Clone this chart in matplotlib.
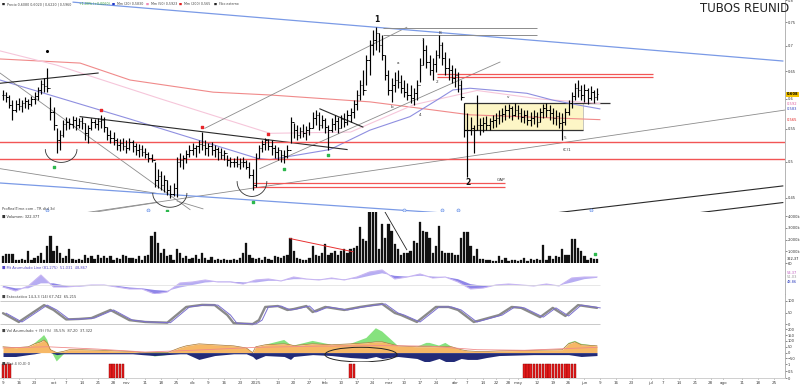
import numpy as np
import pandas as pd
import matplotlib
matplotlib.use("Agg")
import matplotlib.pyplot as plt
from matplotlib.patches import Rectangle, Ellipse
from matplotlib.ticker import NullLocator

# ---------------- daily bars, 9 sep 2024 -> 6 jun 2025 ----------------
highs = [
    .616, .612, .607, .598, .598, .602, .598, .603, .600, .605,
    .612, .621, .634, .638, .657, .603, .586, .551, .548, .565,
    .570, .568, .571, .570, .568, .570, .560, .556, .568, .566,
    .568, .573, .570, .553, .548, .545, .536, .534, .536, .533,
    .536, .533, .528, .527, .525, .521, .515, .512, .499, .489,
    .486, .481, .474, .467, .470, .507, .513, .510, .518, .525,
    .528, .525, .533, .545, .533, .528, .530, .525, .522, .521,
    .518, .510, .507, .506, .509, .506, .507, .503, .499, .489,
    .513, .525, .533, .536, .534, .533, .525, .522, .518, .518,
    .525, .570, .560, .556, .553, .558, .555, .561, .578, .581,
    .578, .573, .568, .556, .568, .573, .570, .573, .576, .581,
    .584, .598, .616, .634, .653, .682, .712, .733, .739, .726,
    .722, .682, .653, .638, .649, .653, .643, .634, .629, .625,
    .620, .634, .676, .716, .702, .682, .676, .692, .722, .708,
    .688, .676, .662, .657, .649, .634, .593, .576, .570, .556,
    .607, .568, .570, .571, .568, .573, .576, .581, .584, .590,
    .591, .588, .593, .590, .584, .581, .581, .578, .581, .578,
    .584, .591, .593, .590, .584, .581, .578, .576, .584, .598,
    .612, .629, .634, .625, .627, .620, .623, .616, .620,
]
lows = [
    .598, .595, .585, .565, .578, .581, .578, .585, .583, .588,
    .591, .598, .609, .612, .612, .565, .548, .513, .518, .537,
    .548, .550, .551, .548, .551, .550, .533, .528, .548, .551,
    .548, .551, .545, .533, .528, .525, .518, .516, .518, .513,
    .518, .515, .510, .507, .509, .506, .500, .499, .464, .463,
    .461, .458, .454, .450, .452, .451, .492, .489, .498, .507,
    .510, .507, .513, .518, .510, .509, .510, .507, .503, .504,
    .502, .494, .493, .492, .492, .490, .493, .489, .477, .461,
    .464, .506, .515, .518, .518, .510, .506, .503, .500, .498,
    .506, .528, .536, .533, .536, .537, .533, .541, .551, .556,
    .548, .551, .544, .518, .545, .548, .544, .551, .553, .556,
    .561, .568, .581, .598, .607, .625, .643, .682, .692, .688,
    .672, .634, .607, .595, .612, .620, .611, .603, .598, .593,
    .590, .598, .630, .662, .657, .643, .634, .649, .676, .662,
    .643, .634, .629, .622, .612, .598, .538, .478, .541, .513,
    .548, .541, .545, .548, .548, .551, .553, .558, .561, .565,
    .568, .565, .571, .566, .561, .560, .556, .555, .558, .553,
    .561, .568, .570, .565, .558, .556, .551, .533, .556, .573,
    .585, .598, .603, .598, .595, .591, .598, .593, .598,
]
closes = [
    .607, .604, .590, .581, .591, .588, .593, .596, .591, .600,
    .605, .616, .627, .623, .620, .578, .556, .533, .541, .558,
    .561, .558, .565, .556, .563, .560, .544, .551, .561, .558,
    .563, .565, .553, .541, .536, .533, .525, .528, .524, .521,
    .530, .523, .518, .519, .515, .512, .506, .503, .474, .480,
    .467, .474, .461, .455, .463, .500, .503, .506, .512, .518,
    .521, .523, .527, .525, .521, .524, .518, .519, .515, .510,
    .513, .502, .500, .499, .496, .500, .499, .493, .481, .467,
    .506, .521, .527, .533, .524, .521, .515, .518, .510, .509,
    .518, .561, .548, .541, .547, .544, .548, .551, .568, .573,
    .556, .565, .553, .548, .558, .563, .551, .566, .561, .573,
    .578, .591, .607, .625, .616, .672, .702, .712, .726, .702,
    .682, .643, .616, .625, .634, .630, .620, .612, .607, .602,
    .611, .625, .662, .692, .668, .653, .664, .682, .702, .676,
    .657, .653, .638, .643, .625, .603, .548, .548, .551, .548,
    .556, .556, .560, .556, .563, .565, .568, .573, .574, .581,
    .584, .573, .581, .576, .570, .573, .565, .568, .571, .561,
    .578, .584, .581, .576, .568, .571, .560, .561, .578, .593,
    .605, .620, .616, .607, .616, .602, .612, .603, .608,
]
# volume, thousands of shares
volumes = [
    580, 783, 783, 783, 290, 232, 348, 232, 1015, 290,
    435, 580, 870, 290, 1450, 2320, 1015, 1450, 870, 435,
    580, 1160, 348, 290, 348, 232, 725, 435, 580, 348,
    725, 435, 580, 435, 638, 290, 435, 348, 725, 580,
    435, 435, 348, 580, 290, 580, 725, 2320, 2668, 1740,
    870, 1160, 580, 725, 290, 1160, 870, 435, 580, 348,
    435, 725, 348, 870, 435, 290, 522, 290, 348, 232,
    348, 290, 232, 348, 290, 435, 870, 1740, 725, 435,
    348, 435, 290, 522, 348, 290, 580, 522, 435, 580,
    725, 2175, 1015, 435, 348, 290, 290, 435, 1450, 725,
    580, 870, 1595, 725, 870, 1015, 725, 1015, 1160, 870,
    1160, 1305, 1450, 3045, 2030, 1885, 4600, 4600, 4600, 1160,
    3335, 2175, 3335, 2755, 1595, 1160, 725, 870, 812, 1015,
    1885, 1740, 3480, 2755, 2610, 2175, 870, 1450, 3190, 1015,
    812, 812, 812, 725, 725, 2175, 2610, 2668, 1450, 580,
    1160, 348, 348, 290, 290, 145, 145, 638, 290, 435,
    145, 232, 290, 145, 232, 435, 145, 348, 290, 348,
    232, 1508, 290, 580, 348, 638, 522, 1160, 725, 725,
    2030, 2030, 1305, 1015, 580, 290, 435, 348, 322,
]
holidays = ["2024-12-25", "2024-12-26", "2025-01-01", "2025-04-18", "2025-04-21", "2025-05-01"]
first_day, last_day = "2024-09-09", "2025-08-29"
month_names = ["2025", "feb", "mar", "abr", "may", "jun", "jul", "ago", "sep", "oct", "nov", "dic"]

# moving averages (bar index, price)
ma20_idx = [-0.95, 40.2, 80.4, 84.5, 103.5, 116.1, 128.8, 137.3, 142.4, 147.8, 158.2, 165.8, 174, 181.6, 188.9]
ma20_val = [0.634, 0.566, 0.505, 0.503, 0.518, 0.548, 0.570, 0.598, 0.616, 0.619, 0.614, 0.610, 0.598, 0.590, 0.583]
ma50_idx = [-0.95, 17, 50, 84.5, 110, 130, 150, 170, 188.9]
ma50_val = [0.690, 0.662, 0.600, 0.543, 0.545, 0.590, 0.615, 0.600, 0.592]
ma200_idx = [-0.95, 24.4, 40.2, 66.5, 84.5, 116.1, 132, 147.8, 188.9]
ma200_val = [0.674, 0.666, 0.634, 0.612, 0.607, 0.595, 0.584, 0.573, 0.565]

# drawn trend lines ((bar, price), (bar, price))
gray_lines = [((63.9, 0.551), (127.8, 0.739)), ((81.3, 0.490), (157.3, 0.668)),
              ((25.9, 0.431), (247.5, 0.581)), ((-0.95, 0.647), (59.2, 0.435)),
              ((-0.95, 0.490), (48.7, 0.456)), ((24.4, 0.429), (48.7, 0.444)),
              ((55.1, 0.446), (63.3, 0.436))]
black_lines = [((-0.95, 0.628), (30.1, 0.647)), ((24.4, 0.570), (108.9, 0.518)),
               ((100.3, 0.583), (113.9, 0.553)), ((170.9, 0.429), (246.8, 0.466)),
               ((215.8, 0.429), (246.8, 0.444))]
blue_lines = [((22.2, 0.795), (246.8, 0.670)), ((-0.95, 0.470), (138.3, 0.431))]
red_levels = [0.530, 0.504]
red_short = [0.645, 0.640]
red_short_span = (137.3, 205.7)
gap_levels = [0.470, 0.465]
gap_span = (79.1, 158.9)
top_levels = [0.737, 0.722]
top_span = (120.3, 169.0)
box_span = (145.9, 183.5)
box_prices = (0.548, 0.593)
box_line_end = 192.1
cups = [(18.4, 5.0, 0.518, 0.499), (52.8, 5.4, 0.456, 0.438), (78.8, 4.7, 0.472, 0.452)]
red_marks = [(31, 0.581), (63, 0.553), (84, 0.542)]
green_marks = [(16, 0.492), (79, 0.445), (89, 0.490), (103, 0.510), (52, 0.433)]
blue_marks = [(14, 0.434), (46, 0.434), (127, 0.434), (139, 0.434), (144, 0.434), (186, 0.434)]
wave_labels = [("1", 118.4, 0.757), ("2", 147.2, 0.471)]
small_labels = [("GAP", 157.5, 0.474), ("(C)1", 178.5, 0.517), ("a", 125, 0.666), ("b", 123.1, 0.586),
                ("1", 132.9, 0.712), ("B", 138.3, 0.726), ("4", 132, 0.573), ("2", 137.3, 0.630),
                ("v", 159.8, 0.603), ("5", 177.8, 0.535)]
price_tags = [("0.608", 0.608, "#f5c400", "black"), ("0.592", 0.592, None, "#e060a0"),
              ("0.583", 0.583, None, "#3040c0"), ("0.565", 0.565, None, "#e02020")]

# volume panel drawings
vol_red_line = ((90.8, 2087), (110.8, 957))
vol_black_line = ((120.9, 4350), (127.8, 1130))

# accumulation line panel, sampled every 4 bars
p2_line = [45.8, 43.4, 46.4, 53, 45.8, 45.8, 46.4, 47, 47, 45.8, 44.6, 44.6, 41.6, 42.8, 48.2, 48.8,
           50, 48.8, 48.8, 47.6, 50, 50.6, 49.4, 51.8, 50.6, 50, 51.2, 50, 51.8, 54.8, 56, 50.6,
           51.8, 53.6, 51.2, 51.8, 48.8, 44.6, 45.2, 47, 47.6, 47, 46.4, 47.6, 46.4, 51.2, 51.8, 51.8]
p2_signal = [46.5, 45, 45, 48, 48, 46.5, 46, 46.5, 47, 46.5, 45.5, 45, 44, 43.5, 45.5, 47,
             48.5, 49, 49, 48.5, 48.5, 49.5, 49.5, 50.5, 50.5, 50.3, 50.5, 50.3, 50.8, 52.5, 54, 52.5,
             52, 52.5, 52, 51.8, 50.5, 47.5, 46.5, 46.5, 47, 47, 46.8, 47, 46.8, 48.5, 50.5, 51.3]

# stochastic turning points
stoch_idx = [0, 5, 13, 16, 20, 24, 28, 34, 37, 40, 45, 52, 58, 63, 67, 71, 73, 79, 81, 83,
             87, 90, 92, 96, 98, 102, 108, 113, 117, 120, 124, 126, 131, 135, 137, 141, 144, 149, 157, 161,
             164, 170, 174, 178, 182, 186, 188]
stoch_val = [47, 9, 82, 61, 20, 22, 26, 61, 39, 17, 9, 6, 74, 83, 82, 39, 4, 0, 17, 74,
             78, 61, 65, 78, 52, 74, 61, 74, 82, 87, 48, 39, 9, 52, 74, 74, 61, 9, 39, 74,
             70, 30, 70, 35, 82, 74, 70]

# volume-flow panel
p4_idx = [0, 4, 8, 10, 12, 13, 14, 15, 17, 19, 21, 25, 31, 36, 41, 44, 48, 52, 56, 58,
          62, 67, 73, 77, 79, 80, 83, 89, 91, 92, 98, 104, 110, 115, 118, 120, 125, 131, 134, 135,
          138, 140, 142, 145, 147, 150, 153, 157, 168, 177, 179, 181, 183, 188]
p4_orange = [50, 42, 50, 75, 92, 108, 83, 25, 0, 10, 25, 25, 20, 15, 10, 0, 0, 0, 42, 58,
             75, 67, 58, 40, 0, 50, 67, 75, 67, 60, 75, 67, 75, 83, 92, 92, 58, 50, 50, 50,
             50, 50, 50, 25, 15, 10, 10, 15, 20, 25, 75, 92, 67, 58]
p4_green = [50, 42, 50, 80, 125, 150, 108, 25, -75, -20, 25, 25, 20, 15, 10, 0, -33, -20, 42, 58,
            75, 67, 58, 40, 0, 50, 67, 108, 67, 60, 100, 67, 75, 125, 208, 180, 58, 50, 83, 83,
            60, 83, 50, 25, 15, 10, 10, 15, 20, 25, 83, 100, 75, 58]
p4_navy = [-33, -33, -17, -10, 0, 0, 0, 0, -17, -10, -10, -10, -10, -10, -10, -17, -25, -17, -10, -10,
           -58, -25, -10, -10, -33, -58, -25, -33, -58, -33, -17, -25, -42, -50, -33, -50, -33, -50, -83, -75,
           -50, -75, -83, -50, -58, -58, -42, -25, -17, -17, -17, -25, -33, -25]
p4_red_idx = [0, 14, 30, 45, 60, 80, 100, 120, 135, 150, 165, 188]
p4_red_val = [40, 50, 30, 5, 20, 45, 55, 60, 55, 25, 20, 45]
p4_ellipse = (113.3, -17, 22.8, 125)

# signal bars panel
signal_bars = [0, 1, 2, 34, 35, 36, 37, 38, 110, 111] + list(range(165, 182))

# ---------------- layout ----------------
W, H = 800, 387
X_LEFT, X_RIGHT = -0.95, 247.5
FS_AX = 2.6
fig = plt.figure(figsize=(W / 100, H / 100), dpi=100)
fig.patch.set_facecolor("white")


def panel(top, bottom):
    ax = fig.add_axes([0, 1 - bottom / H, 785 / W, (bottom - top) / H])
    ax.set_xlim(X_LEFT, X_RIGHT)
    ax.spines["top"].set_visible(False)
    ax.spines["left"].set_visible(False)
    ax.spines["right"].set_color("#a8a8a8")
    ax.spines["bottom"].set_color("#c8c8c8")
    for s in ax.spines.values():
        s.set_linewidth(0.6)
    ax.yaxis.tick_right()
    ax.tick_params(axis="y", labelsize=FS_AX, length=1.2, pad=0.8, width=0.4, colors="#333333")
    ax.tick_params(axis="x", bottom=False, labelbottom=False)
    ax.set_facecolor("white")
    return ax


def tag(ax, y, txt, color, bg=None):
    kw = dict(transform=ax.get_yaxis_transform(), fontsize=FS_AX, va="center", ha="left", color=color)
    if bg:
        kw["bbox"] = dict(boxstyle="square,pad=0.12", fc=bg, ec="none")
        kw["fontweight"] = "bold"
    ax.text(1.002, y, txt, **kw)


bar_idx = np.arange(len(closes))
opens = [closes[0]] + closes[:-1]

# ---- main price panel ----
ax = panel(0, 212)
ax.set_yscale("log")
ax.set_ylim(0.432, 0.799)
price_ticks = [0.45, 0.5, 0.55, 0.6, 0.65, 0.7, 0.75, 0.8]
ax.set_yticks(price_ticks)
ax.set_yticklabels([f"{p:g}" for p in price_ticks])
ax.yaxis.set_minor_locator(NullLocator())

ax.add_patch(Rectangle((box_span[0], box_prices[0]), box_span[1] - box_span[0],
                       box_prices[1] - box_prices[0], facecolor="#fdf6c6", edgecolor="#b0b0b0",
                       lw=0.5, zorder=0))
ax.hlines(box_prices[1], box_span[0], box_line_end, color="#333333", lw=0.9, zorder=1)
ax.hlines(box_prices[0], box_span[0], box_span[1], color="#333333", lw=0.9, zorder=1)

ax.plot(ma200_idx, ma200_val, color="#f08a8a", lw=0.8)
ax.plot(ma50_idx, ma50_val, color="#f6c6da", lw=0.8)
ax.plot(ma20_idx, ma20_val, color="#8f8fe0", lw=0.8)

for (a, b) in gray_lines:
    ax.plot([a[0], b[0]], [a[1], b[1]], color="#8c8c8c", lw=0.6)
for (a, b) in black_lines:
    ax.plot([a[0], b[0]], [a[1], b[1]], color="#2a2a2a", lw=0.8)
for (a, b) in blue_lines:
    ax.plot([a[0], b[0]], [a[1], b[1]], color="#7a9ae6", lw=0.9)
for lvl in red_levels:
    ax.axhline(lvl, color="#f25555", lw=1.0)
ax.hlines(red_short, *red_short_span, color="#f25555", lw=0.9)
ax.hlines(gap_levels, *gap_span, color="#f25555", lw=0.9)
ax.hlines(top_levels, *top_span, color="#8c8c8c", lw=0.7)

t = np.linspace(np.pi, 2 * np.pi, 40)
for c, w, top, bot in cups:
    ax.plot(c + w * np.cos(t), np.exp(np.log(top) + (np.log(top) - np.log(bot)) * np.sin(t)),
            color="#333333", lw=0.6)

ax.vlines(bar_idx, lows, highs, color="black", lw=0.85, zorder=3)
ax.hlines(closes, bar_idx, bar_idx + 0.45, color="black", lw=0.7, zorder=3)
ax.hlines(opens, bar_idx - 0.45, bar_idx, color="black", lw=0.7, zorder=3)

ax.scatter([m[0] for m in red_marks], [m[1] for m in red_marks], marker="s", s=3, color="#e8262b", zorder=4)
ax.scatter([m[0] for m in green_marks], [m[1] for m in green_marks], marker="s", s=3, color="#2db84d", zorder=4)
ax.scatter([m[0] for m in blue_marks], [m[1] for m in blue_marks], marker="o", s=5,
           facecolor="#cfe0ff", edgecolor="#6a8fe0", lw=0.4, zorder=4)
ax.scatter([14], [0.690], marker="o", s=1.5, color="black", zorder=4)

for txt, xi, yp in wave_labels:
    ax.text(xi, yp, txt, fontsize=5.5, fontweight="bold", ha="center", va="center", color="#111111")
for txt, xi, yp in small_labels:
    ax.text(xi, yp, txt, fontsize=3, ha="center", va="center", color="#333333")
for txt, yp, bg, col in price_tags:
    tag(ax, yp, txt, col, bg)

fig.text(745 / W, 1 - 8 / H, "TUBOS REUNID", fontsize=8.5, ha="center", va="center", color="#222222")

legend_parts = [("■", "#222222", 2), ("Precio 0,6080 0,6020 | 0,6220 | 0,5960", "#444444", 7),
                ("+1,00% (+0,0060)", "#3aa03a", 79), ("■", "#1f35c8", 112), ("Mm (20) 0,5830", "#444444", 117),
                ("■", "#f08ab8", 146), ("Mm (50) 0,5923", "#444444", 151),
                ("■", "#e02020", 179), ("Mm (200) 0,565", "#444444", 184),
                ("■", "#222222", 214), ("Fibo externo", "#444444", 219)]
for txt, col, xp in legend_parts:
    fig.text(xp / W, 1 - 4 / H, txt, fontsize=2.3, color=col, ha="left", va="center")
fig.text(2 / W, 1 - 209 / H, "ProRealTime.com - TR dtd 3d", fontsize=2.6, color="#444444", va="center")

# ---- volume ----
axv = panel(212, 263)
axv.set_ylim(0, 4350)
axv.bar(bar_idx, volumes, width=0.72, color="#111111", edgecolor="#111111", lw=0.2)
axv.plot([vol_red_line[0][0], vol_red_line[1][0]], [vol_red_line[0][1], vol_red_line[1][1]], color="#e83030", lw=0.7)
axv.plot([vol_black_line[0][0], vol_black_line[1][0]], [vol_black_line[0][1], vol_black_line[1][1]],
         color="#222222", lw=0.6)
axv.scatter([187.3], [780], marker="s", s=3, color="#2db84d", zorder=4)
axv.set_yticks([1000, 2000, 3000, 4000])
axv.set_yticklabels(["1.000k", "2.000k", "3.000k", "4.000k"])
tag(axv, 322, "322,37", "#222222")
axv.text(0.003, 0.9, "■ Volumen: 322,377", transform=axv.transAxes, fontsize=2.6, color="#333333", va="center")

# ---- accumulation line ----
ax2 = panel(263, 294)
ax2.set_ylim(41.6, 60.2)
p2_idx = np.arange(0, 189, 4)
l2, s2 = np.array(p2_line), np.array(p2_signal)
ax2.fill_between(p2_idx, s2, l2, where=l2 >= s2, interpolate=True, color="#b7adf2", lw=0)
ax2.fill_between(p2_idx, s2, l2, where=l2 < s2, interpolate=True, color="#8f86e8", lw=0)
ax2.plot(p2_idx, l2, color="#c8b6f2", lw=0.8)
ax2.hlines(47, -1, 189, color="#dddddd", lw=0.5)
ax2.set_yticks([60])
tag(ax2, 54.4, "54.37", "#c060c0")
tag(ax2, 51.6, "51.03", "#999999")
tag(ax2, 48.8, "48.86", "#3040c0")
ax2.text(0.003, 0.85, "■ Mt Acumulado Line (81,275)  51,031  48,867", transform=ax2.transAxes,
         fontsize=2.6, color="#5548c8", va="center")

# ---- stochastic ----
ax3 = panel(294, 328)
ax3.set_ylim(-17, 130)
ax3.hlines([0, 100], -1, 189, color="#c0c0c0", lw=0.6)
ax3.plot(stoch_idx, stoch_val, color="#8a8a8a", lw=1.7, solid_capstyle="round")
ax3.plot(np.array(stoch_idx) + 1, stoch_val, color="#7b6fd0", lw=0.7)
ax3.set_yticks([0, 50, 100])
ax3.set_yticklabels(["0", "50", "100"])
ax3.text(0.003, 0.9, "■ Estocástico 14,3,3 (14) 67,742  65,215", transform=ax3.transAxes,
         fontsize=2.6, color="#444444", va="center")

# ---- volume flow ----
ax4 = panel(328, 362)
ax4.set_ylim(-80, 210)
o4, g4, n4 = np.array(p4_orange), np.array(p4_green), np.array(p4_navy)
ax4.fill_between(p4_idx, o4, g4, where=g4 > o4, interpolate=True, color="#86e27e", lw=0)
ax4.fill_between(p4_idx, 0, g4, where=g4 < 0, interpolate=True, color="#86e27e", lw=0)
ax4.fill_between(p4_idx, 0, o4, color="#f6b866", lw=0)
ax4.plot(p4_idx, o4, color="#a8752e", lw=0.5)
ax4.fill_between(p4_idx, n4, 0, color="#222b78", lw=0)
ax4.plot(p4_red_idx, p4_red_val, color="#f08a8a", lw=0.6)
ax4.add_patch(Ellipse(p4_ellipse[:2], p4_ellipse[2], p4_ellipse[3], fill=False, ec="#222222", lw=0.7))
ax4.set_yticks([-50, 0, 50, 100, 150, 200])
ax4.text(0.003, 0.9, "■ Vol Acumulado + (9) (%)  35,5%  87,20  37,322", transform=ax4.transAxes,
         fontsize=2.6, color="#444444", va="center")

# ---- signal bars ----
ax5 = panel(362, 378)
ax5.set_ylim(0, 1.15)
ax5.bar(signal_bars, [1] * len(signal_bars), width=0.75, color="#e31b1b", edgecolor="#8b0000", lw=0.3)
ax5.set_yticks([0, 0.5, 1])
ax5.set_yticklabels(["0", "0.5", "1"])
ax5.text(0.003, 0.85, "■ Mat 4 (0,0) 0", transform=ax5.transAxes, fontsize=2.6, color="#444444", va="center")

# ---- date axis ----
dates = pd.bdate_range(first_day, last_day, freq="C", holidays=holidays)
tick_pos, tick_lab, tick_kind = [0], [str(dates[0].day)], ["d"]
for k in range(1, len(dates)):
    d, prev = dates[k], dates[k - 1]
    if d.month != prev.month:
        if tick_kind[-1] == "d" and k - tick_pos[-1] < 3:
            tick_pos.pop(); tick_lab.pop(); tick_kind.pop()
        tick_pos.append(k); tick_lab.append(month_names[d.month - 1]); tick_kind.append("m")
    elif d.weekday() < prev.weekday() and k - tick_pos[-1] >= 3:
        tick_pos.append(k); tick_lab.append(str(d.day)); tick_kind.append("d")
ax5.set_xticks(tick_pos)
ax5.set_xticklabels(tick_lab)
ax5.tick_params(axis="x", bottom=True, labelbottom=True, labelsize=3, length=1, width=0.4,
                pad=1, colors="#444444")

fig.savefig("out.png", dpi=100, facecolor="white")
